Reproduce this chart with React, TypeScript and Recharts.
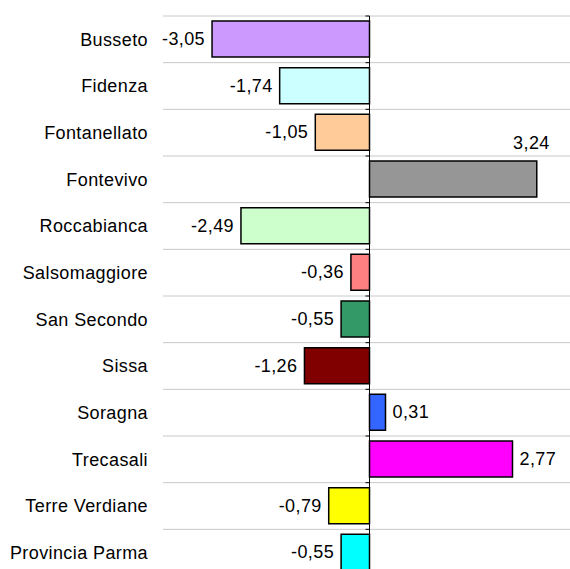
import React from "react"
import { BarChart, Bar, XAxis, YAxis, CartesianGrid, ReferenceLine, LabelList, Cell } from "recharts"

const comuni = [
  "Busseto",
  "Fidenza",
  "Fontanellato",
  "Fontevivo",
  "Roccabianca",
  "Salsomaggiore",
  "San Secondo",
  "Sissa",
  "Soragna",
  "Trecasali",
  "Terre Verdiane",
  "Provincia Parma",
]

const variazioni = [-3.05, -1.74, -1.05, 3.24, -2.49, -0.36, -0.55, -1.26, 0.31, 2.77, -0.79, -0.55]

const colori = [
  "#CC99FF",
  "#CCFFFF",
  "#FFCC99",
  "#969696",
  "#CCFFCC",
  "#FF8080",
  "#339966",
  "#800000",
  "#3366FF",
  "#FF00FF",
  "#FFFF00",
  "#00FFFF",
]

const data = comuni.map((name, i) => ({ name, value: variazioni[i] }))

const FONT = "'Liberation Sans', Arial, sans-serif"

const formatValue = (v: number) => v.toFixed(2).replace(".", ",")

function ValueLabel(props: any) {
  const { x, y, width, height, value } = props
  const left = Math.min(x, x + width)
  const right = Math.max(x, x + width)
  const cy = y + height / 2
  const text = formatValue(value)
  const common = {
    fontSize: 18,
    fontFamily: FONT,
    fill: "#000",
    letterSpacing: 0.4,
    dominantBaseline: "central" as const,
  }
  if (value < 0) {
    return (
      <text x={left - 7} y={cy} textAnchor="end" {...common}>
        {text}
      </text>
    )
  }
  // no room on the right: put the label above the bar end
  if (right + 7 + 38 > 566) {
    return (
      <text x={right + 13} y={cy - 36} textAnchor="end" {...common}>
        {text}
      </text>
    )
  }
  return (
    <text x={right + 7} y={cy} textAnchor="start" {...common}>
      {text}
    </text>
  )
}

function ZeroAxis(props: any) {
  const { x1, y1, y2 } = props
  const n = comuni.length
  const step = (y2 - y1) / n
  const ticks = Array.from({ length: n + 1 }, (_, i) => y1 + i * step)
  return (
    <g>
      <line x1={x1} y1={y1} x2={x1} y2={y2} stroke="#000" strokeWidth={1} />
      {ticks.map((t, i) => (
        <line key={i} x1={x1 - 4} y1={t} x2={x1} y2={t} stroke="#000" strokeWidth={1} />
      ))}
    </g>
  )
}

export default function App() {
  return (
    <div
      style={{
        position: "fixed",
        left: 0,
        top: 0,
        width: 570,
        height: 569,
        overflow: "hidden",
        background: "#fff",
      }}
    >
      <BarChart
        width={580}
        height={580}
        data={data}
        layout="vertical"
        margin={{ top: 16, right: 4, left: 0, bottom: 4 }}
        barSize={36}
      >
        <CartesianGrid
          vertical={false}
          stroke="#c8c8c8"
          horizontalCoordinatesGenerator={({ offset }: any) =>
            Array.from({ length: comuni.length + 1 }, (_, i) => offset.top + (i * offset.height) / comuni.length)
          }
        />
        <XAxis type="number" domain={[-4, 4]} hide />
        <YAxis
          type="category"
          dataKey="name"
          width={163}
          tickLine={false}
          axisLine={false}
          tickSize={0}
          tickMargin={15}
          interval={0}
          tick={{ fill: "#000", fontSize: 18, fontFamily: FONT, letterSpacing: 0.4 }}
        />
        <Bar dataKey="value" stroke="#000" strokeWidth={1.5} isAnimationActive={false}>
          {data.map((entry, index) => (
            <Cell key={`cell-${index}`} fill={colori[index]} />
          ))}
          <LabelList dataKey="value" content={ValueLabel} />
        </Bar>
        <ReferenceLine x={0} shape={ZeroAxis} ifOverflow="visible" />
      </BarChart>
    </div>
  )
}
